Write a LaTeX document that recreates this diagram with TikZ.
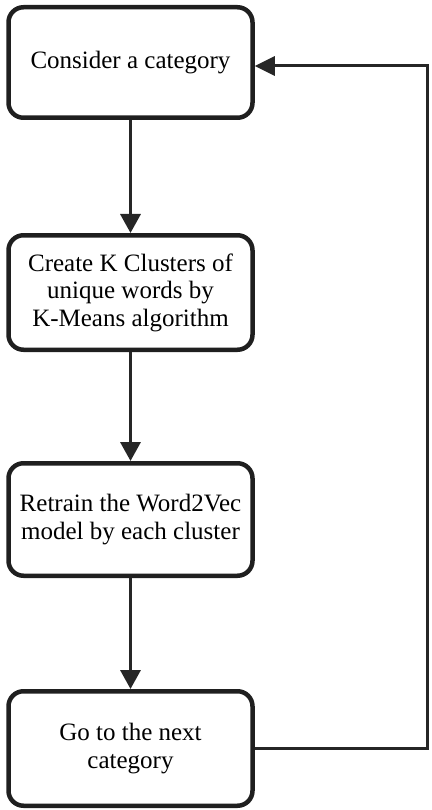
\documentclass[tikz,border=0pt]{standalone}
\usepackage{fontspec}
\setmainfont{LiberationSerif}[Extension=.ttf, UprightFont=*-Regular, BoldFont=*-Bold]
\usetikzlibrary{arrows.meta}
\begin{document}
\begin{tikzpicture}[x=1pt,y=1pt,
  stepbox/.style={draw=black!88, line width=4.5pt, rounded corners=15pt, fill=white,
    minimum width=244pt, align=center, inner sep=0pt,
    font=\fontsize{25}{27.5}\selectfont},
  flow/.style={draw=black!85, line width=3.5pt, -{Triangle[width=20pt,length=19pt]}},
  back/.style={draw=black!85, line width=3pt, -{Triangle[width=19pt,length=20pt]}}]
\useasboundingbox (0,0) rectangle (431,-810);
\node[stepbox, minimum height=110.5pt] (b1) at (130.5,-62.5) {Consider a category};
\node[stepbox, minimum height=114.5pt] (b2) at (130.5,-292.5) {Create K Clusters of\\unique words by\\K-Means algorithm};
\node[stepbox, minimum height=112.5pt] (b3) at (130.5,-519.5) {Retrain the Word2Vec\\model by each cluster};
\node[stepbox, minimum height=114.5pt] (b4) at (130.5,-748.5) {Go to the next\\category};
\coordinate (c) at (427,-66);
\draw[flow] (b1) -- (b2);
\draw[flow] (b2) -- (b3);
\draw[flow] (b3) -- (b4);
\draw[back] (b4.east) -- (b4.east -| c) -- (c) -- (c -| b1.east);
\end{tikzpicture}
\end{document}
